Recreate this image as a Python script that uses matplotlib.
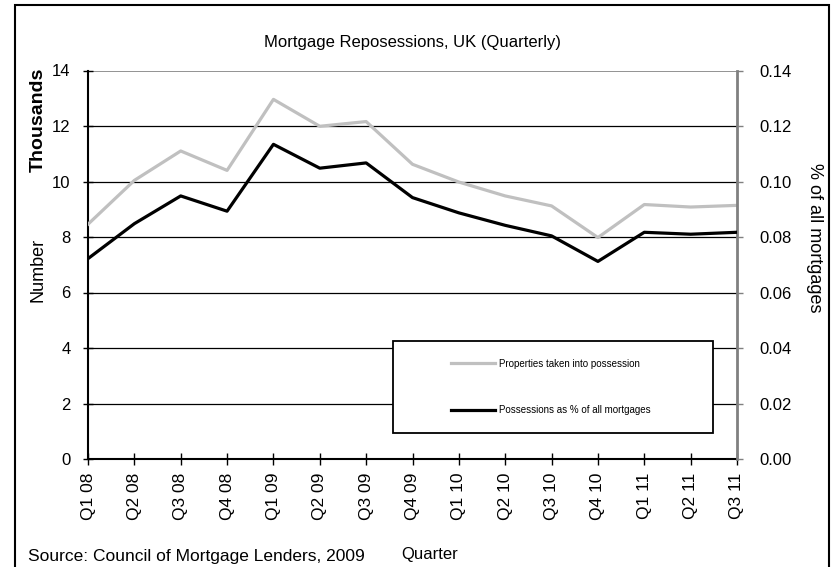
import matplotlib
matplotlib.use('Agg')
import matplotlib.pyplot as plt
from matplotlib.patches import Rectangle

plt.rcParams['font.family'] = ['Liberation Sans', 'DejaVu Sans']

quarters = ['Q1 08', 'Q2 08', 'Q3 08', 'Q4 08', 'Q1 09', 'Q2 09', 'Q3 09', 'Q4 09',
            'Q1 10', 'Q2 10', 'Q3 10', 'Q4 10', 'Q1 11', 'Q2 11', 'Q3 11']
# thousands of properties taken into possession
possessions = [8.46, 10.04, 11.10, 10.40, 12.96, 11.99, 12.16, 10.62,
               9.98, 9.48, 9.12, 7.98, 9.17, 9.08, 9.14]
# possessions as % of all mortgages
pct_mortgages = [0.0722, 0.0848, 0.0948, 0.0893, 0.1134, 0.1048, 0.1067, 0.0942,
                 0.0887, 0.0842, 0.0804, 0.0712, 0.0817, 0.0810, 0.0817]

fig = plt.figure(figsize=(8.31, 5.67), dpi=100)
ax = fig.add_axes([88/831, 108/567, 649/831, 388.5/567])
ax2 = ax.twinx()

x = range(len(quarters))

# gridlines
for v in range(2, 13, 2):
	ax.axhline(v, color='black', lw=0.9, zorder=0)
ax.axhline(14, color='#808080', lw=1.2, zorder=0)

ax.plot(x, possessions, color='#c0c0c0', lw=2.3, label='Properties taken into possession', zorder=3)
ax2.plot(x, pct_mortgages, color='black', lw=2.3, label='Possessions as % of all mortgages', zorder=3)

ax.set_xlim(0, len(quarters) - 1)
ax.set_ylim(0, 14)
ax2.set_ylim(0, 0.14)
ax.set_yticks(range(0, 15, 2))
ax2.set_yticks([i * 0.02 for i in range(8)])
ax2.set_yticklabels(['%.2f' % (i * 0.02) for i in range(8)])
ax.set_xticks(list(x))
ax.set_xticklabels(quarters, rotation=90, fontsize=12.5)
ax.tick_params(axis='x', direction='inout', length=8, width=1, pad=6)
ax.tick_params(axis='y', direction='inout', length=7, width=1, labelsize=12, pad=9)
ax2.tick_params(axis='y', direction='out', length=4, width=1, color='#808080', labelsize=12, pad=12)

ax.spines['top'].set_visible(False)
ax2.spines['top'].set_visible(False)
ax.spines['right'].set_visible(False)
ax2.spines['left'].set_visible(False)
ax2.spines['bottom'].set_visible(False)
ax.spines['left'].set_linewidth(1.5)
ax.spines['bottom'].set_linewidth(1.5)
ax2.spines['right'].set_color('#808080')
ax2.spines['right'].set_linewidth(2)

ax.set_title('Mortgage Reposessions, UK (Quarterly)', fontsize=12, pad=17)
ax.set_xlabel('Quarter', fontsize=12)
ax.xaxis.set_label_coords((430 - 88) / 649, (459 - 547) / 388.5)
ax2.set_ylabel('% of all mortgages', fontsize=13, rotation=270, va='center')
ax2.yaxis.set_label_coords((814 - 88) / 649, (459 - 238) / 388.5)

fig.text(38/831, 1 - 120/567, 'Thousands', rotation=90, fontsize=14, fontweight='bold',
	ha='center', va='center')
fig.text(38/831, 1 - 270/567, 'Number', rotation=90, fontsize=13, ha='center', va='center')

# legend box
fig.patches.append(Rectangle((393/831, 1 - 433/567), 320/831, 92/567, transform=fig.transFigure,
	facecolor='white', edgecolor='black', lw=1.3, zorder=5))
h1, l1 = ax.get_legend_handles_labels()
h2, l2 = ax2.get_legend_handles_labels()
leg = fig.legend(h1 + h2, l1 + l2, loc='center', bbox_to_anchor=(551/831, 1 - 387/567),
	frameon=False, fontsize=7, handlelength=4.5, handletextpad=0.4, labelspacing=3.8)
leg.set_zorder(6)

# outer frame
fig.patches.append(Rectangle((15/831, -0.1), 814/831, 1.1 - 5/567, transform=fig.transFigure,
	facecolor='none', edgecolor='black', lw=1.5))

fig.text(28/831, 1 - 556/567, 'Source: Council of Mortgage Lenders, 2009', fontsize=12.5,
	ha='left', va='center')

plt.savefig('out.png', dpi=100)
